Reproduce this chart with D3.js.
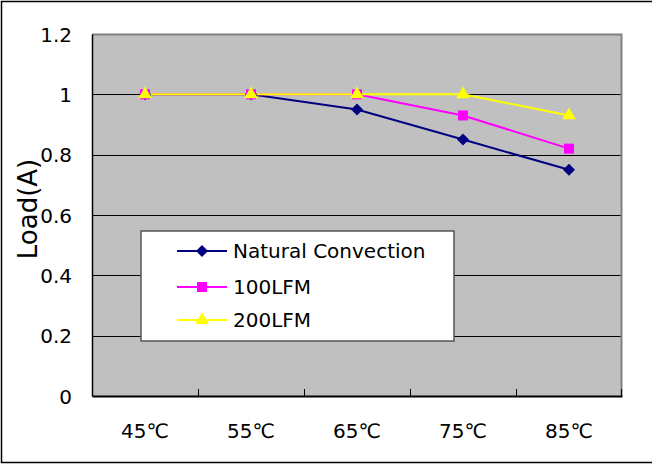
<!DOCTYPE html>
<html>
<head>
<meta charset="utf-8">
<script src="https://cdn.jsdelivr.net/npm/d3@7"></script>
<style>
  body { margin: 0; background: #fff; }
  text { font-family: "DejaVu Sans", sans-serif; fill: #000; }
</style>
</head>
<body>
<div id="chart"></div>
<script>
// data
const categories = ["45℃", "55℃", "65℃", "75℃", "85℃"];
const seriesNames = ["Natural Convection", "100LFM", "200LFM"];
const naturalValues = [1, 1, 0.95, 0.85, 0.75];
const lfm100Values = [1, 1, 1, 0.93, 0.82];
const lfm200Values = [1, 1, 1, 1, 0.93];
const yTicks = [0, 0.2, 0.4, 0.6, 0.8, 1, 1.2];

const series = [
  { name: seriesNames[0], values: naturalValues, color: "#000080", symbol: d3.symbolSquare, size: 72, rotate: 45 },
  { name: seriesNames[1], values: lfm100Values, color: "#FF00FF", symbol: d3.symbolSquare, size: 100, rotate: 0 },
  { name: seriesNames[2], values: lfm200Values, color: "#FFFF00", symbol: d3.symbolTriangle, size: 80, rotate: 0 }
];

const W = 652, H = 464;
const plot = { left: 92, right: 622, top: 34, bottom: 396 };

const svg = d3.select("#chart").append("svg")
  .attr("width", W)
  .attr("height", H);

// outer border
svg.append("rect")
  .attr("x", 1.5).attr("y", 1.5)
  .attr("width", W).attr("height", 461)
  .attr("fill", "none")
  .attr("stroke", "#000")
  .attr("stroke-width", 1.5);

// scales
const x = d3.scaleBand()
  .domain(categories)
  .range([plot.left, plot.right]);

const y = d3.scaleLinear()
  .domain([0, 1.2])
  .range([plot.bottom, plot.top]);

const cx = d => x(d) + x.bandwidth() / 2;

// plot background
svg.append("rect")
  .attr("x", plot.left).attr("y", plot.top)
  .attr("width", plot.right - plot.left)
  .attr("height", plot.bottom - plot.top)
  .attr("fill", "#C0C0C0");

// gridlines
svg.append("g")
  .selectAll("line")
  .data(yTicks.filter(t => t > 0 && t < 1.2))
  .enter().append("line")
  .attr("x1", plot.left).attr("x2", plot.right)
  .attr("y1", d => Math.round(y(d)) + 0.5)
  .attr("y2", d => Math.round(y(d)) + 0.5)
  .attr("stroke", "#000")
  .attr("stroke-width", 1);

// plot border top/right gray
svg.append("path")
  .attr("d", `M${plot.left},${plot.top + 0.5} H${plot.right - 0.5} V${plot.bottom}`)
  .attr("fill", "none")
  .attr("stroke", "#808080")
  .attr("stroke-width", 2);

// y axis
const yAxis = svg.append("g")
  .attr("transform", `translate(${plot.left},0)`)
  .call(d3.axisLeft(y).tickValues(yTicks).tickSize(0).tickPadding(20)
    .tickFormat(d => d3.format("")(d)));
yAxis.select(".domain").attr("stroke", "#000").attr("stroke-width", 1.5);
yAxis.selectAll(".tick text")
  .style("font-family", '"DejaVu Sans", sans-serif')
  .style("font-size", "20px")
  .attr("dy", "0.35em");

// x axis
const xAxis = svg.append("g")
  .attr("transform", `translate(0,${plot.bottom})`)
  .call(d3.axisBottom(x).tickSize(0).tickPadding(28));
xAxis.select(".domain").attr("stroke", "#000").attr("stroke-width", 2);
xAxis.selectAll(".tick text")
  .style("font-family", '"DejaVu Sans", sans-serif')
  .style("font-size", "20px");

// category boundary ticks (inward)
svg.append("g")
  .selectAll("line")
  .data(categories.slice(1).concat(["end"]))
  .enter().append("line")
  .attr("x1", d => d === "end" ? plot.right - 0.5 : Math.round(x(d)) + 0.5)
  .attr("x2", d => d === "end" ? plot.right - 0.5 : Math.round(x(d)) + 0.5)
  .attr("y1", plot.bottom)
  .attr("y2", plot.bottom - 7)
  .attr("stroke", "#000")
  .attr("stroke-width", 1);

// y axis label
svg.append("text")
  .attr("transform", `translate(37, 209) rotate(-90)`)
  .attr("text-anchor", "middle")
  .style("font-size", "26px")
  .text("Load(A)");

// lines and markers
const line = d3.line()
  .x((d, i) => cx(categories[i]))
  .y(d => y(d));

series.forEach(s => {
  svg.append("path")
    .datum(s.values)
    .attr("d", line)
    .attr("fill", "none")
    .attr("stroke", s.color)
    .attr("stroke-width", 2);
});

series.forEach(s => {
  svg.append("g")
    .selectAll("path")
    .data(s.values)
    .enter().append("path")
    .attr("d", d3.symbol().type(s.symbol).size(s.size))
    .attr("transform", (d, i) => `translate(${cx(categories[i])},${y(d)}) rotate(${s.rotate})`)
    .attr("fill", s.color);
});

// legend
const legend = svg.append("g");
legend.append("rect")
  .attr("x", 141).attr("y", 231)
  .attr("width", 313).attr("height", 110)
  .attr("fill", "#fff")
  .attr("stroke", "#555")
  .attr("stroke-width", 1.5);

const rowY = [251, 287, 320];
series.forEach((s, i) => {
  const g = legend.append("g").attr("transform", `translate(0,${rowY[i]})`);
  g.append("line")
    .attr("x1", 177).attr("x2", 227)
    .attr("y1", 0).attr("y2", 0)
    .attr("stroke", s.color)
    .attr("stroke-width", 2);
  g.append("path")
    .attr("d", d3.symbol().type(s.symbol).size(s.size))
    .attr("transform", `translate(202,0) rotate(${s.rotate})`)
    .attr("fill", s.color);
  g.append("text")
    .attr("x", 233)
    .attr("y", 0)
    .attr("dy", "0.35em")
    .style("font-size", "20px")
    .text(s.name);
});
</script>
</body>
</html>
